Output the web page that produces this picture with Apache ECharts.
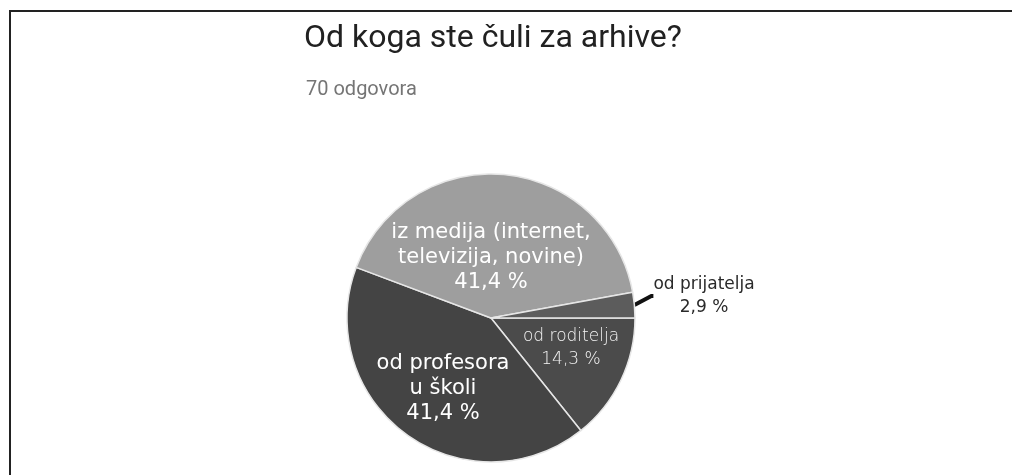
<!DOCTYPE html>
<html>
<head>
<meta charset="utf-8">
<script src="https://cdn.jsdelivr.net/npm/echarts@6/dist/echarts.min.js"></script>
<style>
  html, body { margin: 0; padding: 0; background: #fff; }
  #chart { width: 1012px; height: 475px; }
</style>
</head>
<body>
<div id="chart"></div>
<script>
// Survey answers: "Od koga ste čuli za arhive?" (70 responses)
const categories = [
  'od roditelja',
  'od profesora\nu školi',
  'iz medija (internet,\ntelevizija, novine)',
  'od prijatelja'
];
const counts = [10, 29, 29, 2];
const sliceColors = ['#4b4b4b', '#444444', '#9e9e9e', '#5c5c5c'];
const titleText = 'Od koga ste čuli za arhive?';
const subtitleText = '70 odgovora';

const total = counts.reduce((a, b) => a + b, 0);
const pct = v => (v / total * 100).toFixed(1).replace('.', ',') + ' %';

const LABEL_FONT = "'DejaVu Sans', sans-serif";
const labelStyles = [
  { position: 'inside', fontSize: 17, lineHeight: 23, color: '#f4f4f4', fontWeight: 200 },
  { position: 'inside', fontSize: 21, lineHeight: 25, color: '#ffffff' },
  { position: 'inside', fontSize: 21, lineHeight: 25, color: '#ffffff' },
  { position: 'outside', fontSize: 17, lineHeight: 23, color: '#2a2a2a' }
];
// label centres after layout
const labelCentre = [[571, 348], [443, 389], [491, 258], [704, 296]];

const chart = echarts.init(document.getElementById('chart'), null, { renderer: 'canvas' });
chart.setOption({
  animation: false,
  backgroundColor: '#ffffff',
  title: [
    {
      text: titleText, left: 299, top: 18,
      textStyle: { fontFamily: 'Roboto', fontSize: 32, fontWeight: 'normal', color: '#212121' }
    },
    {
      text: subtitleText, left: 301, top: 75,
      textStyle: { fontFamily: 'Roboto', fontSize: 20, fontWeight: 'normal', color: '#757575' }
    }
  ],
  graphic: [
    { type: 'line', shape: { x1: 9, y1: 11, x2: 1012, y2: 11 }, style: { stroke: '#222', lineWidth: 2 } },
    { type: 'line', shape: { x1: 10, y1: 10, x2: 10, y2: 475 }, style: { stroke: '#222', lineWidth: 2 } }
  ],
  series: [{
    type: 'pie',
    center: [491, 318],
    radius: 144,
    startAngle: 0,
    clockwise: true,
    silent: true,
    itemStyle: { borderColor: '#e6e6e6', borderWidth: 1.5 },
    label: { fontFamily: LABEL_FONT },
    labelLine: { show: true, length: 14, length2: 2, lineStyle: { color: '#111', width: 4 } },
    labelLayout: function (params) {
      const c = labelCentre[params.dataIndex];
      const r = params.labelRect;
      return {
        x: c[0], y: c[1] - r.height / 2,
        align: 'center', verticalAlign: 'top'
      };
    },
    data: categories.map((name, i) => ({
      name: name,
      value: counts[i],
      itemStyle: { color: sliceColors[i] },
      label: Object.assign({
        show: true,
        fontFamily: LABEL_FONT,
        formatter: p => p.name + '\n' + pct(p.value)
      }, labelStyles[i]),
      labelLine: { show: i === 3 }
    }))
  }]
});
</script>
</body>
</html>
